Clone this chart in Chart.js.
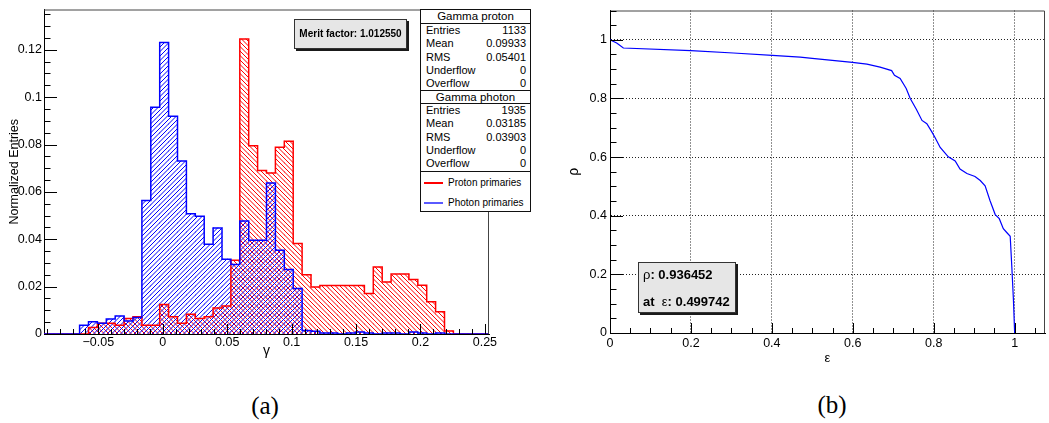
<!DOCTYPE html>
<html>
<head>
<meta charset="utf-8">
<script src="https://cdn.jsdelivr.net/npm/chart.js@4.4.1/dist/chart.umd.min.js"></script>
<style>
  html, body { margin: 0; padding: 0; background: #fff; }
  body { width: 1049px; height: 423px; position: relative; overflow: hidden;
         font-family: "Liberation Sans", Arial, Helvetica, sans-serif; color: #000; }
  canvas { position: absolute; top: 0; }
  #gammaCanvas { left: 0; }
  #purityCanvas { left: 555px; }
  .st { position: absolute; left: 420px; width: 111px; box-sizing: border-box;
        border: 1px solid #111; background: #fff; font-size: 11px; }
  .hd { text-align: center; font-size: 11.5px; line-height: 12px; }
  .r { display: flex; justify-content: space-between; padding: 0 4px 0 5px;
       height: 13.3px; line-height: 13.3px; }
  .lg { position: absolute; left: 3px; width: 100px; font-size: 10px; height: 14px; line-height: 14px; }
  .lg .ln { position: absolute; display: block; left: 0; top: 6px; width: 19px; }
  .lg span.tx { position: absolute; left: 24px; white-space: nowrap; }
  .pave { position: absolute; box-sizing: border-box; border: 1px solid #333;
          background: #e6e6e6; box-shadow: 2px 2px 0 #1a1a1a; }
  #merit { left: 294px; top: 19px; width: 113px; height: 30px; font-weight: bold;
           font-size: 10px; line-height: 28px; text-align: center; white-space: nowrap; }
  #work { left: 638px; top: 262px; width: 98px; height: 51px; font-weight: bold; font-size: 13px; }
  #work div { position: absolute; left: 4px; height: 16px; line-height: 16px; white-space: nowrap; }
  #work .g { font-weight: normal; }
  .cap { position: absolute; font-family: "Liberation Serif", "DejaVu Serif", serif; font-size: 25px;
         line-height: 26px; width: 60px; text-align: center; }
</style>
</head>
<body>
<canvas id="gammaCanvas" width="545" height="375"></canvas>
<canvas id="purityCanvas" width="494" height="375"></canvas>

<div class="pave" id="merit">Merit factor: 1.012550</div>

<div class="st" style="top:9px;height:15px;"><div class="hd">Gamma proton</div></div>
<div class="st" style="top:23px;height:68px;">
  <div class="r"><span>Entries</span><span>1133</span></div>
  <div class="r"><span>Mean</span><span>0.09933</span></div>
  <div class="r"><span>RMS</span><span>0.05401</span></div>
  <div class="r"><span>Underflow</span><span>0</span></div>
  <div class="r"><span>Overflow</span><span>0</span></div>
</div>
<div class="st" style="top:90px;height:14px;"><div class="hd">Gamma photon</div></div>
<div class="st" style="top:103px;height:69px;">
  <div class="r"><span>Entries</span><span>1935</span></div>
  <div class="r"><span>Mean</span><span>0.03185</span></div>
  <div class="r"><span>RMS</span><span>0.03903</span></div>
  <div class="r"><span>Underflow</span><span>0</span></div>
  <div class="r"><span>Overflow</span><span>0</span></div>
</div>
<div class="st" style="top:171px;height:41px;">
  <div class="lg" style="top:4px;"><span class="ln" style="height:1.5px;background:#ff0000;"></span><span class="tx">Proton primaries</span></div>
  <div class="lg" style="top:24px;"><span class="ln" style="height:2px;background:#5a5aff;"></span><span class="tx">Photon primaries</span></div>
</div>

<div class="pave" id="work">
  <div style="top:4px;"><span class="g">ρ</span>: <span id="rhoAt"></span></div>
  <div style="top:31px;">at&nbsp; <span class="g">ε</span>: <span id="epsAt"></span></div>
</div>

<div class="cap" style="left:235px;top:393px;">(a)</div>
<div class="cap" style="left:802px;top:392px;">(b)</div>

<script>
// ---- gamma histograms (normalized entries per bin) ----
const GAMMA_MIN = -0.0922;
const GAMMA_MAX = 0.2532;
const N_BINS = 50;

const protonGamma = [
  0, 0, 0, 0, 0, 0.0027, 0.0045, 0.0045, 0.0037, 0.0065,
  0.0073, 0.0037, 0.0037, 0.0125, 0.0073, 0.0045, 0.0083, 0.0065, 0.0073, 0.0110,
  0.0118, 0.0311, 0.1245, 0.0795, 0.0690, 0.0680, 0.0788, 0.0814, 0.0382, 0.0250,
  0.0198, 0.0205, 0.0205, 0.0205, 0.0205, 0.0205, 0.0171, 0.0283, 0.0220, 0.0253,
  0.0253, 0.0230, 0.0206, 0.0136, 0.0094, 0.0013, 0, 0, 0, 0
];
const photonGamma = [
  0, 0, 0, 0, 0.0037, 0.0052, 0.0045, 0.0063, 0.0076, 0.0055,
  0.0070, 0.0564, 0.0957, 0.1231, 0.0919, 0.0730, 0.0508, 0.0497, 0.0379, 0.0448,
  0.0316, 0.0293, 0.0477, 0.0396, 0.0396, 0.0637, 0.0354, 0.0272, 0.0192, 0.0015,
  0.0012, 0.0004, 0.0004, 0, 0.0004, 0.0008, 0.0004, 0, 0.0004, 0.0004,
  0, 0.0008, 0.0004, 0, 0.0004, 0, 0, 0, 0, 0
];
const gammaTicks = [-0.05, 0, 0.05, 0.1, 0.15, 0.2, 0.25];
const gammaTickLabels = ['\u22120.05', '0', '0.05', '0.1', '0.15', '0.2', '0.25'];
const entriesTicks = [0, 0.02, 0.04, 0.06, 0.08, 0.1, 0.12];
const entriesTickLabels = ['0', '0.02', '0.04', '0.06', '0.08', '0.1', '0.12'];

// ---- purity vs efficiency ----
const efficiency = [0, 0.0165, 0.033, 0.2, 0.305, 0.401, 0.47, 0.499742, 0.599, 0.635,
  0.6675, 0.696, 0.703, 0.717, 0.732, 0.742, 0.757, 0.771, 0.783, 0.795,
  0.8035, 0.816, 0.836, 0.853, 0.865, 0.882, 0.902, 0.915, 0.927, 0.939,
  0.952, 0.962, 0.972, 0.981, 0.989, 0.993, 0.997, 1.0];
const purity = [1.0, 0.989, 0.972, 0.963, 0.955, 0.947, 0.941, 0.936452, 0.923, 0.917,
  0.907, 0.895, 0.879, 0.868, 0.834, 0.800, 0.763, 0.725, 0.714, 0.687,
  0.666, 0.633, 0.601, 0.587, 0.559, 0.544, 0.534, 0.520, 0.502, 0.452,
  0.404, 0.390, 0.356, 0.342, 0.330, 0.226, 0.113, 0];
const unitTicks = [0, 0.2, 0.4, 0.6, 0.8, 1];
const unitTickLabels = ['0', '0.2', '0.4', '0.6', '0.8', '1'];
const WORK_INDEX = 7;

document.getElementById('rhoAt').textContent = purity[WORK_INDEX].toFixed(6);
document.getElementById('epsAt').textContent = efficiency[WORK_INDEX].toFixed(6);

const FONT = '"Liberation Sans", Arial, Helvetica, sans-serif';
Chart.defaults.font.family = FONT;
Chart.defaults.color = '#000';

// diagonal hatch fill: dir > 0 draws '/', dir < 0 draws '\'
function hatch(color, dir) {
  const s = 9;
  const c = document.createElement('canvas');
  c.width = c.height = s;
  const g = c.getContext('2d');
  g.strokeStyle = color;
  g.lineWidth = 1;
  g.beginPath();
  for (let k = -2; k <= 2; k++) {
    const o = k * s / 2;
    if (dir > 0) { g.moveTo(o, s); g.lineTo(o + s, 0); }
    else { g.moveTo(o, 0); g.lineTo(o + s, s); }
  }
  g.stroke();
  return g.createPattern(c, 'repeat');
}

const binW = (GAMMA_MAX - GAMMA_MIN) / N_BINS;
const binEdges = Array.from({ length: N_BINS + 1 }, (_, i) => GAMMA_MIN + i * binW);
const barPoints = vals => vals.map((v, i) => ({ x: binEdges[i] + binW / 2, y: v }));
const stepPoints = vals => binEdges.map((e, i) => ({ x: e, y: i < vals.length ? vals[i] : 0 }));

function minorValues(min, max, step) {
  const out = [];
  for (let k = Math.ceil(min / step - 1e-6); k <= Math.floor(max / step + 1e-6); k++) out.push(k * step);
  return out;
}

// frame on the top/right edges and tick marks drawn inward from the axes
const frameTicks = {
  id: 'frameTicks',
  afterDatasetsDraw(chart, _args, o) {
    const { ctx, chartArea: ca } = chart;
    const xs = chart.scales.x, ys = chart.scales.y;
    ctx.save();
    ctx.lineWidth = 1;
    ctx.strokeStyle = o.frameColor;
    ctx.beginPath();
    ctx.moveTo(ca.left, ca.top + 0.5);
    ctx.lineTo(ca.right - 0.5, ca.top + 0.5);
    ctx.lineTo(ca.right - 0.5, ca.bottom);
    ctx.stroke();
    ctx.strokeStyle = '#000';
    ctx.beginPath();
    const isMajor = (list, v) => list.some(t => Math.abs(t - v) < 1e-9);
    minorValues(xs.min, xs.max, o.xMinorStep).forEach(v => {
      const len = isMajor(o.xMajor, v) ? o.xMajorLen : o.xMajorLen / 2;
      const px = Math.round(xs.getPixelForValue(v)) + 0.5;
      ctx.moveTo(px, ca.bottom); ctx.lineTo(px, ca.bottom - len);
    });
    minorValues(ys.min, ys.max, o.yMinorStep).forEach(v => {
      const len = isMajor(o.yMajor, v) ? o.yMajorLen : o.yMajorLen / 2;
      const py = Math.round(ys.getPixelForValue(v)) + 0.5;
      ctx.moveTo(ca.left, py); ctx.lineTo(ca.left + len, py);
    });
    ctx.stroke();
    ctx.restore();
  }
};

// ---- panel (a): gamma distributions ----
new Chart(document.getElementById('gammaCanvas'), {
  type: 'bar',
  data: {
    datasets: [
      { type: 'bar', data: barPoints(protonGamma), backgroundColor: hatch('#ff0000', -1),
        borderWidth: 0, grouped: false, barPercentage: 1, categoryPercentage: 1, order: 4 },
      { type: 'bar', data: barPoints(photonGamma), backgroundColor: hatch('#0000ff', 1),
        borderWidth: 0, grouped: false, barPercentage: 1, categoryPercentage: 1, order: 3 },
      { type: 'line', data: stepPoints(protonGamma), stepped: 'before', borderColor: '#ff0000',
        borderWidth: 1.5, pointRadius: 0, fill: false, order: 2 },
      { type: 'line', data: stepPoints(photonGamma), stepped: 'before', borderColor: '#0000ff',
        borderWidth: 1.5, pointRadius: 0, fill: false, order: 1 }
    ]
  },
  options: {
    responsive: false, animation: false, devicePixelRatio: 1,
    layout: { padding: { left: 0, top: 9, right: 56, bottom: 0 } },
    plugins: {
      legend: { display: false }, tooltip: { enabled: false },
      frameTicks: { frameColor: '#444', xMajor: gammaTicks, xMinorStep: 0.01, xMajorLen: 10,
                    yMajor: entriesTicks, yMinorStep: 0.005, yMajorLen: 13 }
    },
    scales: {
      x: {
        type: 'linear', min: GAMMA_MIN, max: GAMMA_MAX, offset: false,
        grid: { display: false, drawTicks: false },
        border: { display: true, color: '#000', width: 1 },
        afterBuildTicks: a => { a.ticks = gammaTicks.map(v => ({ value: v })); },
        afterFit: s => { s.height = 41; },
        ticks: { autoSkip: false, maxRotation: 0, padding: 1, font: { size: 12.5 },
                 callback: (v, i) => gammaTickLabels[i] },
        title: { display: true, text: 'γ', font: { size: 14 }, padding: { top: 0, bottom: 15 } }
      },
      y: {
        type: 'linear', min: 0, max: 0.137,
        grid: { display: false, drawTicks: false },
        border: { display: true, color: '#000', width: 1 },
        afterBuildTicks: a => { a.ticks = entriesTicks.map(v => ({ value: v })); },
        afterFit: s => { s.width = 44; },
        ticks: { autoSkip: false, padding: 2, font: { size: 12.5 },
                 callback: (v, i) => entriesTickLabels[i] },
        title: { display: true, text: 'Normalized Entries', font: { size: 12.5 }, padding: { top: 7, bottom: 0 } }
      }
    }
  },
  plugins: [frameTicks]
});

// ---- panel (b): purity vs efficiency ----
new Chart(document.getElementById('purityCanvas'), {
  type: 'line',
  data: {
    datasets: [{
      data: efficiency.map((e, i) => ({ x: e, y: purity[i] })),
      borderColor: '#0000ff', borderWidth: 1.2, pointRadius: 0, tension: 0, fill: false
    }]
  },
  options: {
    responsive: false, animation: false, devicePixelRatio: 1,
    layout: { padding: { left: 0, top: 9, right: 4, bottom: 0 } },
    plugins: {
      legend: { display: false }, tooltip: { enabled: false },
      frameTicks: { frameColor: '#444', xMajor: unitTicks, xMinorStep: 0.05, xMajorLen: 10,
                    yMajor: unitTicks, yMinorStep: 0.05, yMajorLen: 13 }
    },
    scales: {
      x: {
        type: 'linear', min: 0, max: 1.075,
        grid: { display: true, drawTicks: false, color: '#222', lineWidth: 1 },
        border: { display: true, color: '#000', width: 1, dash: [1, 2] },
        afterBuildTicks: a => { a.ticks = unitTicks.map(v => ({ value: v })); },
        afterFit: s => { s.height = 42; },
        ticks: { autoSkip: false, maxRotation: 0, padding: 3, font: { size: 12.5 },
                 callback: (v, i) => unitTickLabels[i] },
        title: { display: true, text: 'ε', font: { size: 13 }, padding: { top: 0, bottom: 9 } }
      },
      y: {
        type: 'linear', min: 0, max: 1.1,
        grid: { display: true, drawTicks: false, color: '#222', lineWidth: 1 },
        border: { display: true, color: '#000', width: 1, dash: [1, 2] },
        afterBuildTicks: a => { a.ticks = unitTicks.map(v => ({ value: v })); },
        afterFit: s => { s.width = 55; },
        ticks: { autoSkip: false, padding: 3, font: { size: 12.5 },
                 callback: (v, i) => unitTickLabels[i] },
        title: { display: true, text: 'ρ', font: { size: 14 }, padding: { top: 11, bottom: 0 } }
      }
    }
  },
  plugins: [frameTicks]
});
</script>
</body>
</html>
